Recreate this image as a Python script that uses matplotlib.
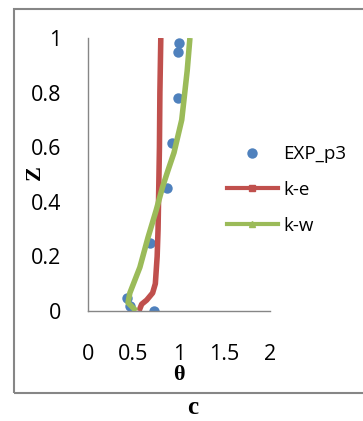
import matplotlib
matplotlib.use("Agg")
import matplotlib.pyplot as plt
from matplotlib.lines import Line2D
from matplotlib.patches import Rectangle

# measured profile (theta vs Z)
exp_theta = [1.00, 0.99, 0.99, 0.92, 0.87, 0.68, 0.425, 0.46, 0.72]
exp_z = [0.98, 0.95, 0.78, 0.615, 0.45, 0.248, 0.046, 0.018, 0.0]

# k-e model
ke_theta = [0.56, 0.59, 0.645, 0.71, 0.74, 0.76, 0.77, 0.775, 0.78, 0.785, 0.79, 0.80]
ke_z = [0.0, 0.025, 0.04, 0.066, 0.1, 0.2, 0.3, 0.4, 0.5, 0.6, 0.8, 1.0]

# k-w model
kw_theta = [0.53, 0.44, 0.46, 0.57, 0.66, 0.75, 0.82, 0.88, 0.945, 1.03, 1.09, 1.12]
kw_z = [0.0, 0.03, 0.066, 0.16, 0.27, 0.37, 0.455, 0.516, 0.58, 0.70, 0.88, 1.0]

x_ticks = [0, 0.5, 1, 1.5, 2]
y_ticks = [0, 0.2, 0.4, 0.6, 0.8, 1]

blue = "#4F81BD"
red = "#C0504D"
green = "#9BBB59"
gray = "#868686"

plt.rcParams['font.family'] = ['Open Sans', 'DejaVu Sans']

fig = plt.figure(figsize=(3.63, 4.21), dpi=100)
ax = fig.add_axes([88/363, 110/421, 182/363, 273/421])

ax.plot(ke_theta, ke_z, color=red, lw=4.0, solid_capstyle='butt', zorder=2)
ax.plot(kw_theta, kw_z, color=green, lw=4.0, solid_capstyle='butt', zorder=3)
ax.plot(exp_theta, exp_z, 'o', color=blue, ms=7.5, mec='none', zorder=1)

ax.set_xlim(0, 2)
ax.set_ylim(0, 1)
ax.set_xticks(x_ticks)
ax.set_xticklabels(['0', '0.5', '1', '1.5', '2'])
ax.set_yticks(y_ticks)
ax.set_yticklabels(['0', '0.2', '0.4', '0.6', '0.8', '1'])
ax.tick_params(length=0, labelsize=15.5)
ax.tick_params(axis='x', pad=24)
ax.tick_params(axis='y', pad=19)
for s in ['top', 'right']:
    ax.spines[s].set_visible(False)
for s in ['left', 'bottom']:
    ax.spines[s].set_color(gray)
    ax.spines[s].set_linewidth(1.0)

ax.text(1.0, -0.235, 'θ', transform=ax.get_xaxis_transform(), ha='center', va='center',
        fontsize=16, fontweight='bold', family='Liberation Serif')
fig.text(35/363, 1 - 173/421, 'Z', rotation=90, ha='center', va='center',
         fontsize=16, fontweight='bold', family='Liberation Serif')
fig.text(193/363, 2/421, 'c', ha='center', va='bottom',
         fontsize=18, fontweight='bold', family='Liberation Serif')

# outer chart border (left, top, bottom)
fig.patches.append(Rectangle((14/363, 28/421), 1.2, 384/421, transform=fig.transFigure,
                             fill=False, edgecolor=gray, lw=1.5, clip_on=False))

handles = [
    Line2D([], [], ls='none', marker='o', color=blue, ms=7.5, mec='none'),
    Line2D([], [], color=red, lw=3, marker='s', ms=4),
    Line2D([], [], color=green, lw=3, marker='^', ms=4),
]
fig.legend(handles, ['EXP_p3', 'k-e', 'k-w'], loc='center left',
           bbox_to_anchor=(227/363, 1 - 190/421), frameon=False, fontsize=13.5,
           handlelength=2.7, handletextpad=0.3, labelspacing=0.95,
           borderpad=0, borderaxespad=0, numpoints=1)

fig.savefig('out.png', dpi=100)
